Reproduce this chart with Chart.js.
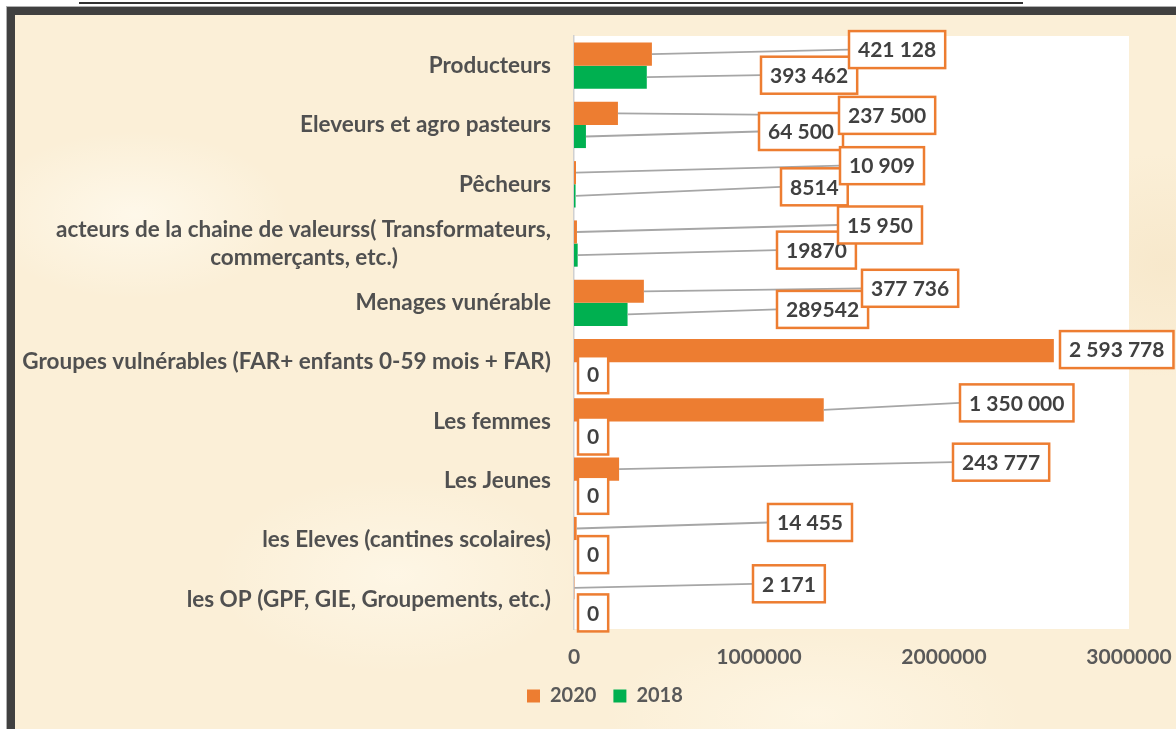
<!DOCTYPE html>
<html><head><meta charset="utf-8">
<script src="https://cdn.jsdelivr.net/npm/chart.js@4.4.1/dist/chart.umd.min.js"></script>
<style>
html,body{margin:0;padding:0;width:1176px;height:729px;overflow:hidden;background:#fff;}
#caption{position:absolute;left:79px;top:2px;width:944px;height:0;border-top:2px solid #333;}
#frame{position:absolute;left:6px;top:6px;width:1300px;height:800px;background:#404040;border-top:1px solid #b0b0b0;border-left:1px solid #b0b0b0;}
#paper{position:absolute;left:15px;top:15px;width:1300px;height:800px;
 background:
  radial-gradient(ellipse 220px 120px at 120px 200px, rgba(255,250,238,0.8), rgba(255,250,238,0) 70%),
  radial-gradient(ellipse 260px 140px at 380px 560px, rgba(255,249,235,0.7), rgba(255,249,235,0) 70%),
  radial-gradient(ellipse 200px 160px at 1150px 250px, rgba(245,228,196,0.6), rgba(245,228,196,0) 70%),
  radial-gradient(ellipse 300px 120px at 800px 700px, rgba(255,248,232,0.7), rgba(255,248,232,0) 70%),
  #fbefd7;}
#wrap{position:absolute;left:0;top:0;width:1176px;height:729px;}
</style>
</head><body>
<div id="caption"></div>
<div id="frame"></div>
<div id="paper"></div>
<div id="wrap"><canvas id="c" width="1176" height="729"></canvas></div>
<script>
// ---- data ----
const categories = [
  "Producteurs",
  "Eleveurs et agro pasteurs",
  "Pêcheurs",
  ["acteurs de la chaine de valeurss( Transformateurs,", "commerçants, etc.)"],
  "Menages vunérable",
  "Groupes vulnérables (FAR+ enfants 0-59 mois + FAR)",
  "Les femmes",
  "Les Jeunes",
  "les Eleves (cantines scolaires)",
  "les OP (GPF, GIE, Groupements, etc.)"
];
const seriesNames = ["2020", "2018"];
const values2020 = [421128, 237500, 10909, 15950, 377736, 2593778, 1350000, 243777, 14455, 2171];
const values2018 = [393462, 64500, 8514, 19870, 289542, 0, 0, 0, 0, 0];
const xTicks = [0, 1000000, 2000000, 3000000];
// labels of 2018 written without thousands separator in the source
const plainLabels2018 = [2, 3, 4];

// ---- callout placement (pixels, relative to plot left / bar centre) ----
const calloutLeft = [
  [275, 265, 266, 264, 288, 486, 386, 379, 194, 179],
  [187, 185, 207, 203, 203, 4, 4, 4, 4, 4]
];
const calloutDy = [
  [-4.5, 2, -7, -7, -3, -1, -7, -7, -6, -4],
  [-2, -5, -9, -5, -5, 1, 3, 3, 3, 2]
];

const FONT = "Lato, 'Open Sans', sans-serif";
const FS = 21;
const YFS = 22.5;
const fmtGroup = v => String(v).replace(/\B(?=(\d{3})+(?!\d))/g, ' ');
function labelText(di, j) {
  const v = di === 0 ? values2020[j] : values2018[j];
  if (di === 1 && plainLabels2018.includes(j)) return String(v);
  return fmtGroup(v);
}

const measureCtx = document.createElement('canvas').getContext('2d');
measureCtx.font = "bold " + YFS + "px " + FONT;

const bgPlugin = {
  id: 'plotBg',
  beforeDraw(chart) {
    const a = chart.chartArea, ctx = chart.ctx;
    ctx.save();
    ctx.fillStyle = '#ffffff';
    ctx.fillRect(a.left, a.top, a.right - a.left, a.bottom - a.top);
    ctx.restore();
  }
};

// place the legend under the plot like the source (starts at x = 527)
const legendPlace = {
  id: 'legendPlace',
  afterLayout(chart) {
    const lg = chart.legend;
    if (!lg) return;
    const w = lg.right - lg.left;
    lg.left = 527 - lg.options.labels.padding;
    lg.right = lg.left + w;
  }
};

const calloutPlugin = {
  id: 'callouts',
  afterDatasetsDraw(chart) {
    const ctx = chart.ctx, a = chart.chartArea;
    ctx.save();
    ctx.font = "bold " + FS + "px " + FONT;
    const items = [];
    [1, 0].forEach(di => {
      const meta = chart.getDatasetMeta(di);
      meta.data.forEach((bar, j) => {
        const text = labelText(di, j);
        const tw = ctx.measureText(text).width;
        const w = tw + 18, h = 37;
        const bx = a.left + calloutLeft[di][j];
        const cy = bar.y + calloutDy[di][j];
        items.push({bar, text, w, h, bx, cy});
      });
    });
    ctx.strokeStyle = '#a6a6a6';
    ctx.lineWidth = 1.8;
    items.forEach(it => {
      if (it.bx - it.bar.x > 14) {
        ctx.beginPath();
        ctx.moveTo(it.bar.x, it.bar.y);
        ctx.lineTo(it.bx, it.cy);
        ctx.stroke();
      }
    });
    items.forEach(it => {
      const top = it.cy - it.h / 2;
      ctx.fillStyle = '#ffffff';
      ctx.fillRect(it.bx, top, it.w, it.h);
      ctx.strokeStyle = '#ED7D31';
      ctx.lineWidth = 2.5;
      ctx.strokeRect(it.bx, top, it.w, it.h);
      ctx.fillStyle = '#404040';
      ctx.textAlign = 'center';
      ctx.textBaseline = 'middle';
      ctx.fillText(it.text, it.bx + it.w / 2, it.cy + 1);
    });
    ctx.restore();
  }
};

const tickFont = {family: FONT, size: YFS, weight: 'bold', lineHeight: 1.25};

new Chart(document.getElementById('c'), {
  type: 'bar',
  data: {
    labels: categories,
    datasets: [
      {label: seriesNames[0], data: values2020, backgroundColor: '#ED7D31'},
      {label: seriesNames[1], data: values2018, backgroundColor: '#00B050'}
    ]
  },
  options: {
    indexAxis: 'y',
    responsive: false,
    animation: false,
    devicePixelRatio: 1,
    layout: {padding: {left: 14, right: 47, top: 36, bottom: 13}},
    datasets: {bar: {categoryPercentage: 0.78, barPercentage: 1}},
    scales: {
      x: {
        min: xTicks[0], max: xTicks[xTicks.length - 1],
        afterBuildTicks(s) { s.ticks = xTicks.map(v => ({value: v})); },
        ticks: {font: {family: FONT, size: FS, weight: 'bold'}, color: '#595959', padding: 16,
                maxRotation: 0, autoSkip: false, callback: v => String(v)},
        grid: {display: false, drawTicks: false},
        border: {display: false},
        afterFit(s) { s.height = 40; s.paddingLeft = 0; s.paddingRight = 0; }
      },
      y: {
        grid: {display: false, drawTicks: false},
        border: {display: true, color: '#d0d0d0', width: 1.5},
        ticks: {
          font: tickFont, color: '#505050', padding: 23, autoSkip: false,
          callback(value, index) {
            const lab = categories[index];
            if (Array.isArray(lab)) {
              const w0 = measureCtx.measureText(lab[0]).width;
              const w1 = measureCtx.measureText(lab[1]).width;
              const sp = measureCtx.measureText('\u00A0').width;
              const n = Math.round((w0 - w1) / 2 / sp);
              return [lab[0], lab[1] + '\u00A0'.repeat(Math.max(0, n))];
            }
            return lab;
          }
        },
        afterFit(s) { s.width = 560; s.paddingTop = 0; s.paddingBottom = 0; }
      }
    },
    plugins: {
      legend: {
        position: 'bottom', align: 'start',
        labels: {boxWidth: 13, boxHeight: 13, padding: 17, color: '#595959',
                 font: {family: FONT, size: 20, weight: 'bold'}}
      },
      tooltip: {enabled: false}
    }
  },
  plugins: [bgPlugin, legendPlace, calloutPlugin]
});
</script>
</body></html>
